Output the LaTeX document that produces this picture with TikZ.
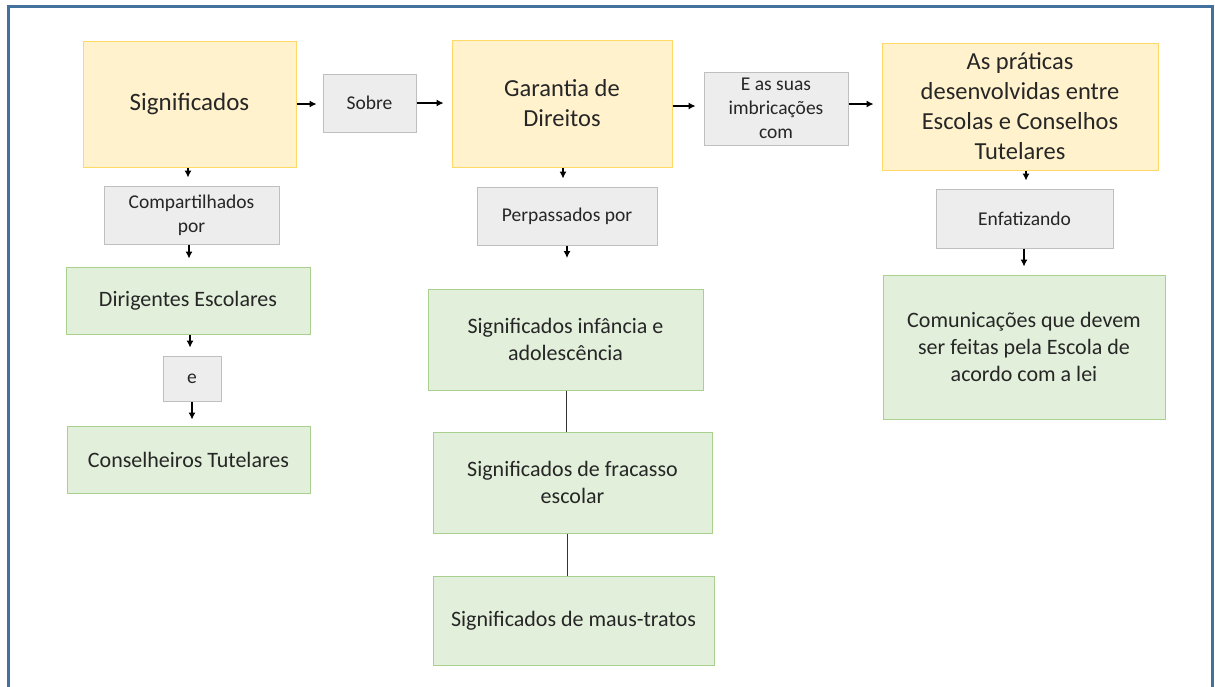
\documentclass[tikz,border=0pt]{standalone}
\usepackage{fontspec}
\setmainfont{Carlito}
\usetikzlibrary{arrows.meta}
\definecolor{frameblue}{HTML}{41719C}
\definecolor{yfill}{HTML}{FFF2CC}
\definecolor{ydraw}{HTML}{FFD966}
\definecolor{gfill}{HTML}{EDEDED}
\definecolor{gdraw}{HTML}{BFBFBF}
\definecolor{grfill}{HTML}{E2EFDA}
\definecolor{grdraw}{HTML}{A9D08E}
\definecolor{txt}{HTML}{262626}
\tikzset{
  base/.style={rectangle, inner sep=2pt, align=center, text=txt, line width=1pt},
  ybox/.style={base, fill=yfill, draw=ydraw, font=\fontsize{24.5}{30}\selectfont},
  gbox/.style={base, fill=gfill, draw=gdraw, font=\fontsize{19.5}{24}\selectfont},
  grbox/.style={base, fill=grfill, draw=grdraw, font=\fontsize{22}{27}\selectfont},
  arr/.style={-{Latex[length=7pt,width=7pt]}, line width=1.1pt, black, shorten >=8pt},
  link/.style={line width=1pt, black!80}
}
\begin{document}
\begin{tikzpicture}[x=1pt,y=-1pt]
\useasboundingbox (0,0) rectangle (1215,686);
\fill[white] (0,0) rectangle (1215,686);
\draw[frameblue, line width=3pt] (8,690) -- (8,6) -- (1212,6) -- (1212,690);

\node[ybox, minimum width=213pt, minimum height=126pt, font=\fontsize{25}{30}\selectfont] (sig) at (189.5,104) {Significados};
\node[gbox, minimum width=93pt, minimum height=58pt] (sobre) at (369.5,103) {Sobre};
\node[ybox, minimum width=220pt, minimum height=127pt] (gar) at (562,103.5) {Garantia de\\Direitos};
\node[gbox, minimum width=144pt, minimum height=73pt] (eas) at (776,108.5) {E as suas\\imbricações\\com};
\node[ybox, minimum width=276pt, minimum height=127pt] (prat) at (1020,106.5) {As práticas\\desenvolvidas entre\\Escolas e Conselhos\\Tutelares};
\node[gbox, minimum width=177pt, minimum height=59pt] (enf) at (1024.5,218.5) {Enfatizando};
\node[grbox, minimum width=282pt, minimum height=144pt] (com) at (1024,347) {Comunicações que devem\\ser feitas pela Escola de\\acordo com a lei};

\node[gbox, minimum width=175pt, minimum height=58pt] (comp) at (191.5,215) {Compartilhados\\por};
\node[grbox, minimum width=244pt, minimum height=67pt] (dir) at (188,300.5) {Dirigentes Escolares};
\node[gbox, minimum width=58pt, minimum height=45pt] (e) at (192,378.5) {e};
\node[grbox, minimum width=243pt, minimum height=67pt] (cons) at (188.5,459.5) {Conselheiros Tutelares};

\node[gbox, minimum width=180pt, minimum height=58pt] (perp) at (567,216) {Perpassados por};
\coordinate (perpend) at (567,258);
\node[grbox, minimum width=275pt, minimum height=101pt] (inf) at (565.5,339.5) {Significados infância e\\adolescência};
\node[grbox, minimum width=279pt, minimum height=101pt] (fra) at (572.5,482.5) {Significados de fracasso\\escolar};
\node[grbox, minimum width=281pt, minimum height=89pt] (mau) at (573.5,620.5) {Significados de maus-tratos};

\draw[arr, shorten >=6pt] (sig.east) -- (sig.east -| sobre.west);
\draw[arr] (sobre.east) -- (sobre.east -| gar.west);
\draw[arr] (gar.east |- 106,106) -- (eas.west |- 106,106);
\draw[arr] (eas.east |- 104,104) -- (prat.west |- 104,104);

\draw[arr] (sig.south -| 188,0) -- (comp.north -| 188,0);
\draw[arr] (comp.south -| 189,0) -- (dir.north -| 189,0);
\draw[arr] (dir.south -| 190,0) -- (e.north -| 190,0);
\draw[arr, shorten >=6pt] (e.south) -- (e.south |- cons.north);

\draw[arr] (gar.south -| 563,0) -- (perp.north -| 563,0);
\draw[-{Latex[length=7pt,width=7pt]}, line width=1.1pt] (perp.south) -- (perpend);

\draw[arr] (prat.south -| 1026,0) -- (enf.north -| 1026,0);
\draw[arr] (enf.south -| 1024,0) -- (com.north -| 1024,0);

\draw[link] (inf.south -| 566,0) -- (fra.north -| 566,0);
\draw[link] (fra.south -| 567,0) -- (mau.north -| 567,0);
\end{tikzpicture}
\end{document}
